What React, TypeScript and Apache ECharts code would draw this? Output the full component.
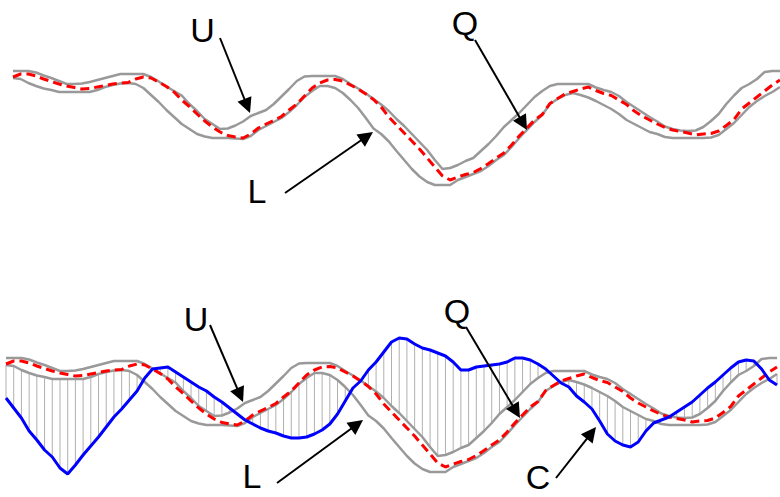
import React, { useEffect, useRef } from "react";
import * as echarts from "echarts";

// Sample index along the time axis (0..100)
const upper = [
  129, 129, 129, 127.5, 124.5, 122, 119, 116, 116, 116.5,
  118, 120, 122, 124, 126, 126, 126, 126, 123, 118.5,
  113.5, 109, 104.5, 96, 89, 81, 76, 71, 71.5, 74.5,
  78.5, 84, 87, 90, 96, 103.5, 111, 119, 123.5, 124,
  124, 124, 124, 121, 116, 111.5, 106.5, 101, 95.5, 89,
  81, 74, 66, 58, 50, 40, 31, 32, 35, 39,
  42, 49, 56, 64, 73, 80, 87, 95, 103, 109,
  114, 116, 116, 116, 116, 116, 112.5, 110, 108, 104,
  98, 93, 88, 83, 78.5, 73.5, 71, 69.5, 69, 69.5,
  73, 79, 86, 96, 104.5, 112, 116, 121, 128, 129,
  129,
];

const lower = [
  122, 121, 117, 114, 111.5, 110, 108, 108, 108, 108,
  108, 110, 113, 115, 116.5, 117, 116, 112, 105, 98,
  90, 83, 76, 71, 66, 63.5, 62, 62, 62, 61.5,
  61, 64, 70, 74, 78, 82, 88, 95, 103, 109,
  114, 114, 112, 107, 100, 92, 82, 71.5, 66, 58.5,
  49, 40, 31, 23.5, 18, 15, 15, 15, 20, 23,
  26, 29, 34, 40, 45, 53, 62, 70, 78, 85,
  96, 101, 105, 107, 105, 102.5, 99, 95, 91, 86,
  80, 76, 72, 68, 66, 63, 62, 62, 62, 62,
  62, 62.5, 65, 71, 77, 85, 93, 99, 104, 108,
  113,
];

const query = [
  123, 126, 126, 124, 121, 118.5, 116, 114, 112.5, 111,
  111.5, 113, 114.5, 116, 117, 117.5, 121, 123, 122, 118,
  113.5, 108, 100, 93.5, 86, 79, 73, 68, 64.5, 63,
  62, 66, 72, 76, 79.5, 83.5, 90, 96, 104, 112,
  117, 120, 120.5, 119, 115, 111, 106, 100.5, 93, 83,
  75, 67, 59, 51, 42, 33, 24, 20, 23, 25.5,
  27.5, 31.5, 36.5, 42, 47, 55, 64, 72, 80, 85.5,
  96.5, 101.5, 106, 108.5, 111, 113, 109.5, 106.5, 104.5, 100,
  95.5, 89, 84, 80, 76, 72.5, 70, 68.5, 67, 65,
  66, 66.5, 69, 74.5, 80.5, 91, 97, 103, 109, 115,
  120,
];

const candidate = [
  89, 79, 69, 56, 47, 37, 30, 19, 13, 22,
  32, 41, 50, 60, 70, 78, 87, 96, 109, 118,
  119, 120, 115, 110, 105, 100, 96, 90, 85, 79,
  73, 67, 63, 59, 56, 54, 51, 49, 49, 50,
  53, 57, 63, 73, 86, 99, 106, 117, 125, 135,
  145, 149, 148, 143, 139, 137, 134, 131, 125, 117,
  117, 120, 121, 122, 123, 125, 129, 129, 127, 123,
  118, 111, 104, 100, 91, 85, 78, 66, 53, 46,
  42, 40, 45, 56, 64, 67, 70, 75, 80, 85,
  92, 99, 105, 112, 119, 125, 127, 126, 118, 107,
  102,
];

const labelTexts = ["U", "Q", "L", "U", "Q", "L", "C"];

// annotation layout: label centre and arrow (start -> tip)
const annotations = [
  { lx: 202.5, ly: 30, x1: 220, y1: 38, x2: 250, y2: 113 },
  { lx: 465, ly: 22.5, x1: 475, y1: 40, x2: 527, y2: 130 },
  { lx: 257, ly: 191, x1: 285, y1: 193, x2: 373, y2: 132 },
  { lx: 196, ly: 319, x1: 210, y1: 325, x2: 243, y2: 402 },
  { lx: 457, ly: 311, x1: 466, y1: 327, x2: 520, y2: 418 },
  { lx: 252, ly: 476, x1: 277, y1: 483, x2: 363, y2: 420 },
  { lx: 538, ly: 477, x1: 556, y1: 478, x2: 596, y2: 427 },
];

const GRAY = "#999999";
const RED = "#ff0000";
const BLUE = "#0000ff";
const HATCH = "#b0b0b0";

const toPts = (arr: number[]) => arr.map((v, i) => [i, v]);

function lineSeries(arr: number[], gi: number, color: string, width: number, z: number, dashed = false) {
  return {
    type: "line",
    xAxisIndex: gi,
    yAxisIndex: gi,
    data: toPts(arr),
    showSymbol: false,
    symbol: "none",
    smooth: false,
    silent: true,
    z,
    lineStyle: { color, width, type: dashed ? [9, 5] : "solid" },
  };
}

function arrowGraphics(a: { lx: number; ly: number; x1: number; y1: number; x2: number; y2: number }, text: string) {
  const dx = a.x2 - a.x1;
  const dy = a.y2 - a.y1;
  const len = Math.sqrt(dx * dx + dy * dy);
  const ux = dx / len;
  const uy = dy / len;
  const headL = 15;
  const headW = 7.5;
  const bx = a.x2 - ux * headL;
  const by = a.y2 - uy * headL;
  const px = -uy;
  const py = ux;
  return [
    {
      type: "text",
      x: a.lx,
      y: a.ly,
      style: {
        text,
        fontSize: 34,
        fontFamily: 'Arial, "Liberation Sans", sans-serif',
        fill: "#000",
        textAlign: "center",
        textVerticalAlign: "middle",
      },
      z: 10,
    },
    {
      type: "line",
      shape: { x1: a.x1, y1: a.y1, x2: bx + ux * 1, y2: by + uy * 1 },
      style: { stroke: "#000", lineWidth: 2 },
      z: 10,
    },
    {
      type: "polygon",
      shape: {
        points: [
          [a.x2, a.y2],
          [bx + px * headW, by + py * headW],
          [bx - px * headW, by - py * headW],
        ],
      },
      style: { fill: "#000" },
      z: 10,
    },
  ];
}

export default function App() {
  const ref = useRef<HTMLDivElement>(null);
  useEffect(() => {
    document.body.style.margin = "0";
    const chart = echarts.init(ref.current!, null, { renderer: "svg" });
    const hatchData = candidate.map((c, i) => [i, c, upper[i], lower[i]]);
    const option = {
      animation: false,
      grid: [
        { left: 13, top: 0, width: 771, height: 200 },
        { left: 6, top: 287, width: 771, height: 200 },
      ],
      xAxis: [0, 1].map((i) => ({ type: "value", gridIndex: i, min: 0, max: 100, show: false })),
      yAxis: [0, 1].map((i) => ({ type: "value", gridIndex: i, min: 0, max: 200, show: false })),
      series: [
        lineSeries(upper, 0, GRAY, 2.5, 2),
        lineSeries(lower, 0, GRAY, 2.5, 2),
        lineSeries(query, 0, RED, 3, 3, true),
        {
          type: "custom",
          xAxisIndex: 1,
          yAxisIndex: 1,
          data: hatchData,
          encode: { x: 0, y: 1 },
          silent: true,
          z: 1,
          renderItem: (params: any, api: any) => {
            const t = api.value(0);
            const c = api.value(1);
            const u = api.value(2);
            const l = api.value(3);
            let a: number;
            if (c > u) a = u;
            else if (c < l) a = l;
            else return { type: "group", children: [] };
            const p1 = api.coord([t, a]);
            const p2 = api.coord([t, c]);
            return {
              type: "line",
              shape: { x1: p1[0], y1: p1[1], x2: p2[0], y2: p2[1] },
              style: { stroke: HATCH, lineWidth: 1 },
            };
          },
        },
        lineSeries(upper, 1, GRAY, 2.5, 2),
        lineSeries(lower, 1, GRAY, 2.5, 2),
        lineSeries(query, 1, RED, 3, 3, true),
        lineSeries(candidate, 1, BLUE, 3, 4),
      ],
      graphic: annotations.flatMap((a, i) => arrowGraphics(a, labelTexts[i])),
    };
    chart.setOption(option as any);
    return () => chart.dispose();
  }, []);
  return <div ref={ref} style={{ width: 780, height: 497 }} />;
}
